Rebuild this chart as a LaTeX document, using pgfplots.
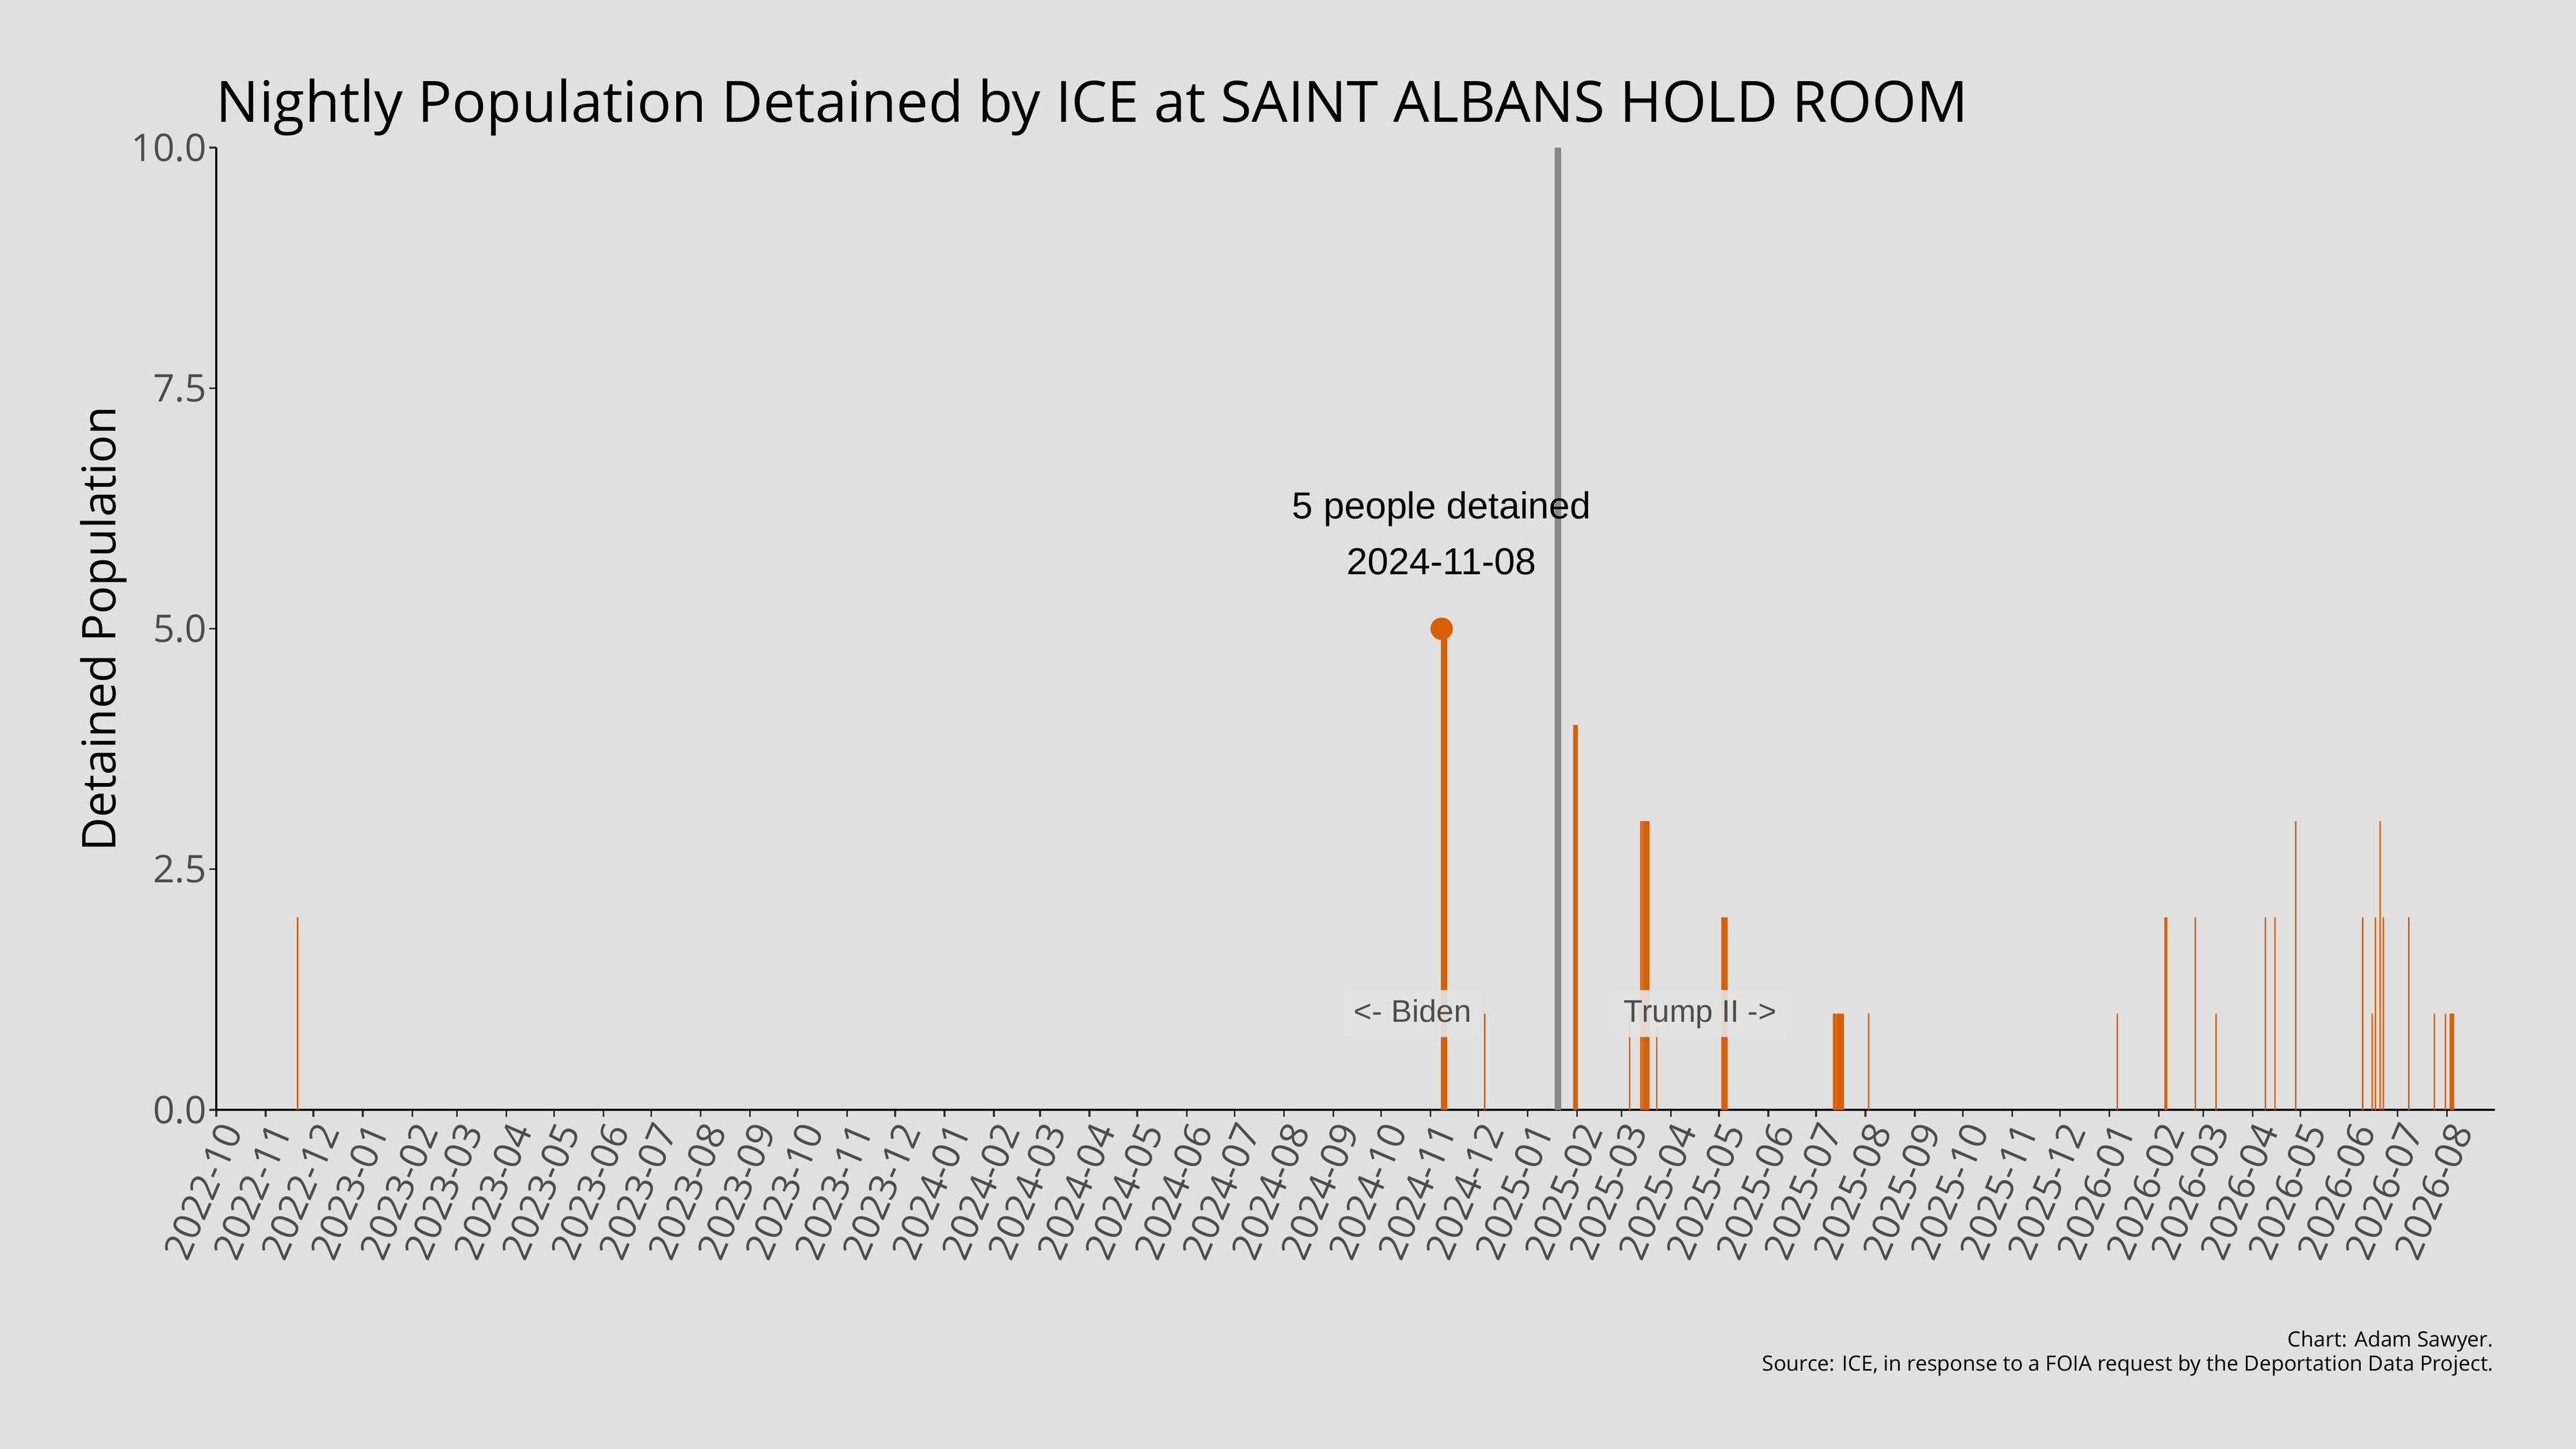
\documentclass[border=0pt]{standalone}
\usepackage{pgfplots}
\pgfplotsset{compat=1.18}
\usepackage{fontspec}
\setmainfont{Open Sans}
\newfontfamily\arial{Liberation Sans}

\definecolor{bg}{HTML}{E0E0E0}
\definecolor{iceorange}{HTML}{D95F02}
\definecolor{vline}{HTML}{888888}
\definecolor{ticktext}{HTML}{4D4D4D}
\definecolor{tickcol}{HTML}{333333}
\definecolor{boxfill}{HTML}{E3E3E3}

\begin{document}
\begin{tikzpicture}
\useasboundingbox (0,0) rectangle (1152pt,648pt);
\fill[bg] (0,0) rectangle (1152pt,648pt);

% title, y label and caption
\node[anchor=base west, inner sep=0pt, font=\fontsize{25.5}{30}\selectfont]
  at (96.5pt,593.5pt) {Nightly Population Detained by ICE at SAINT ALBANS HOLD ROOM};
\node[anchor=base, rotate=90, inner sep=0pt, font=\fontsize{20.8}{25}\selectfont]
  at (51.6pt,366.7pt) {Detained Population};
\node[anchor=base east, inner sep=0pt, font=\fontsize{9.4}{11}\selectfont]
  at (1115.3pt,45.6pt) {Chart: Adam Sawyer.};
\node[anchor=base east, inner sep=0pt, font=\fontsize{9.4}{11}\selectfont]
  at (1115.3pt,34.8pt) {Source: ICE, in response to a FOIA request by the Deportation Data Project.};

\begin{axis}[
    at={(96.72pt,151.68pt)}, anchor=south west,
    scale only axis,
    width=1019pt, height=430.3pt,
    xmin=0, xmax=1430,
    ymin=0, ymax=10,
    axis x line*=bottom,
    axis y line*=left,
    axis line style={-, black, line width=1pt},
    tick align=outside,
    major tick length=3.1pt,
    tick style={tickcol, line width=0.8pt},
    ytick={0,2.5,5,7.5,10},
    yticklabels={0.0,2.5,5.0,7.5,10.0},
    xtick={0,31,61,92,123,151,182,212,243,273,304,335,365,396,426,
           457,488,517,548,578,609,639,670,701,731,762,792,
           823,854,882,913,943,974,1004,1035,1066,1096,1127,1157,
           1188,1219,1247,1278,1308,1339,1369,1400},
    xticklabels={2022-10,2022-11,2022-12,
           2023-01,2023-02,2023-03,2023-04,2023-05,2023-06,2023-07,2023-08,2023-09,2023-10,2023-11,2023-12,
           2024-01,2024-02,2024-03,2024-04,2024-05,2024-06,2024-07,2024-08,2024-09,2024-10,2024-11,2024-12,
           2025-01,2025-02,2025-03,2025-04,2025-05,2025-06,2025-07,2025-08,2025-09,2025-10,2025-11,2025-12,
           2026-01,2026-02,2026-03,2026-04,2026-05,2026-06,2026-07,2026-08},
    x tick label style={rotate=67, anchor=north east, inner sep=1pt,
        font=\fontsize{17}{17}\selectfont, text=ticktext},
    y tick label style={font=\fontsize{17}{17}\selectfont, text=ticktext, inner sep=1pt},
    clip=false,
]

% nightly population, one bar per night with anyone held
\addplot[ybar, bar width=0.9, bar shift=0, fill=iceorange, draw=none] coordinates {
    (51,2)
    (769,5) (770,5) (771,5) (772,5)
    (796,1)
    (852,4) (853,4) (854,4)
    (887,1)
    (894,3) (895,3) (896,3) (897,3) (898,3) (899,3)
    (904,1)
    (945,2) (946,2) (947,2) (948,2)
    (1015,1) (1016,1) (1017,1) (1018,1) (1019,1) (1020,1) (1021,1)
    (1037,1)
    (1193,1)
    (1223,2) (1224,2)
    (1242,2)
    (1255,1)
    (1286,2)
    (1292,2)
    (1305,3)
    (1347,2)
    (1353,1)
    (1355,2)
    (1358,3)
    (1360,2)
    (1376,2)
    (1392,1)
    (1399,1)
    (1402,1) (1403,1) (1404,1)
};

% inauguration 2025-01-20
\addplot[vline, line width=3pt] coordinates {(842,0) (842,10)};

% peak marker
\addplot[only marks, mark=*, mark size=4.8pt, iceorange] coordinates {(769,5)};

\node[font=\arial\fontsize{16.8}{20}\selectfont, anchor=base, inner sep=0pt]
  at (axis cs:769,6.142) {5 people detained};
\node[font=\arial\fontsize{16.8}{20}\selectfont, anchor=base, inner sep=0pt]
  at (axis cs:769,5.566) {2024-11-08};

\node[font=\arial\fontsize{14}{16}\selectfont, text=ticktext, fill=boxfill, fill opacity=0.92,
      text opacity=1, rounded corners=2pt, inner sep=4.2pt, text height=10pt, text depth=2.6pt]
  at (axis cs:750.8,1) {<- Biden};
\node[font=\arial\fontsize{14}{16}\selectfont, text=ticktext, fill=boxfill, fill opacity=0.92,
      text opacity=1, rounded corners=2pt, inner sep=4.2pt, text height=10pt, text depth=2.6pt]
  at (axis cs:931.3,1) {Trump II ->};

\end{axis}
\end{tikzpicture}
\end{document}
